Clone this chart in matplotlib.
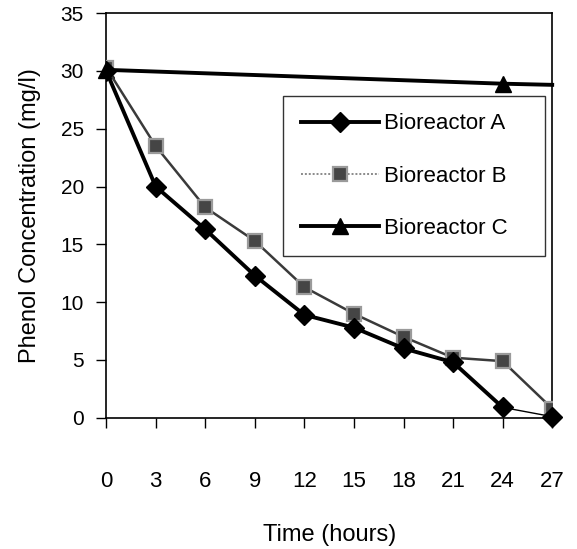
import numpy as np
import matplotlib
matplotlib.use('Agg')
import matplotlib.pyplot as plt
from matplotlib.lines import Line2D

plt.rcParams['font.family'] = ['Liberation Sans', 'DejaVu Sans']

# sampling times (hours)
hours = [0, 3, 6, 9, 12, 15, 18, 21, 24, 27]

# phenol concentration (mg/l)
conc_a = [30.0, 20.0, 16.3, 12.3, 8.9, 7.8, 6.0, 4.8, 0.9, 0.1]
conc_b = [30.3, 23.5, 18.2, 15.3, 11.3, 9.0, 7.0, 5.2, 4.9, 0.8]
hours_c = [0, 24, 27]
conc_c = [30.1, 28.9, 28.8]

fig = plt.figure(figsize=(5.77, 5.49), dpi=100)
ax = fig.add_axes([0.184, 0.239, 0.773, 0.737])

# Bioreactor B: dark grey line with fuzzy grey square markers
ax.plot(hours, conc_b, color='#3a3a3a', lw=1.8, marker='s', ms=9.5,
        mfc='#454545', mec='#9a9a9a', mew=1.6, zorder=3)

# Bioreactor A: heavy line, last segment drawn thin
ax.plot(hours[:-1], conc_a[:-1], color='black', lw=2.8, marker='D', ms=10.5,
        mfc='black', mec='black', zorder=4)
ax.plot(hours[-2:], conc_a[-2:], color='black', lw=1.0, marker='D', ms=10.5,
        mfc='black', mec='black', markevery=[1], zorder=4, clip_on=False)

# Bioreactor C: nearly flat line, marker only at measured points
ax.plot(hours_c, conc_c, color='black', lw=2.8, marker='^', ms=12,
        markevery=[0, 1], zorder=2, clip_on=False)

ax.set_xlim(0, 27)
ax.set_ylim(0, 35)
ax.set_xticks(hours)
ax.set_yticks(np.arange(0, 36, 5))
ax.tick_params(axis='x', direction='out', length=7, width=1, pad=31, labelsize=16)
ax.tick_params(axis='y', direction='out', length=7, width=1, pad=9, labelsize=15)
for sp in ax.spines.values():
    sp.set_linewidth(1.2)
    sp.set_color('black')

ax.set_xlabel('Time (hours)', fontsize=17, labelpad=23)
ax.set_ylabel('Phenol Concentration (mg/l)', fontsize=17, labelpad=14)

handles = [
    Line2D([], [], color='black', lw=2.8, marker='D', ms=10.5),
    Line2D([], [], color='#8a8a8a', lw=1.4, ls=(0, (1, 1)), marker='s', ms=9.5,
           mfc='#454545', mec='#9a9a9a', mew=1.6),
    Line2D([], [], color='black', lw=2.8, marker='^', ms=12),
]
leg = ax.legend(handles, ['Bioreactor A', 'Bioreactor B', 'Bioreactor C'],
                loc='upper left', bbox_to_anchor=(0.397, 0.796, 0.587, 0.0),
                mode='expand', fontsize=16,
                frameon=True, fancybox=False, edgecolor='black',
                handlelength=3.5, handletextpad=0.25, labelspacing=1.4,
                borderpad=0.8, borderaxespad=0)
leg.get_frame().set_linewidth(1.0)

fig.savefig('out.png', dpi=100)
